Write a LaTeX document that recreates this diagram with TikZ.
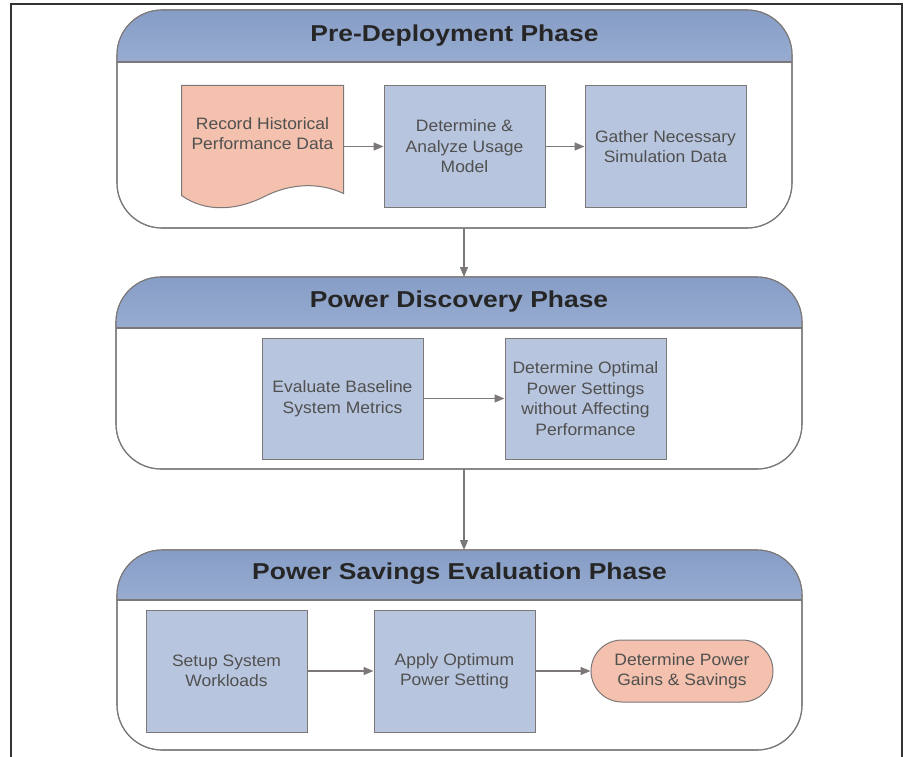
\documentclass[tikz,border=0pt]{standalone}
\usepackage{fontspec}
\setmainfont{Liberation Sans}
\newfontfamily\headfont[FakeStretch=1.15]{Liberation Sans}
\newfontfamily\bodyfont[FakeStretch=1.06]{Liberation Sans}
\usetikzlibrary{positioning, arrows.meta}
\definecolor{headtop}{RGB}{134,157,198}
\definecolor{headbot}{RGB}{152,172,208}
\definecolor{boxblue}{RGB}{184,197,222}
\definecolor{salmon}{RGB}{243,193,173}
\definecolor{edgegray}{RGB}{125,120,120}
\definecolor{txtgray}{RGB}{80,80,80}

\begin{document}
\begin{tikzpicture}[x=1pt, y=-1pt, node distance=40pt,
	phase/.style = { rectangle, draw=edgegray, line width=1.1pt, fill=white,
	rounded corners=45pt, outer sep=0pt },
	title/.style = { font=\headfont\bfseries\fontsize{23}{27}\selectfont, text=black!85 },
	block/.style = { rectangle, draw=edgegray, line width=1pt, fill=boxblue,
	minimum width=161pt, minimum height=121pt, inner sep=0pt, align=center,
	text=txtgray, font=\bodyfont\fontsize{16.5}{20.5}\selectfont },
	flow/.style = { draw=edgegray, line width=1.3pt, -{Triangle[length=10pt,width=8pt]} } ]

  \useasboundingbox (0,0) rectangle (910,757);
  \draw [line width=2pt, black!80] (11,757) -- (11,4) -- (902,4) -- (902,757);

  % pre-deployment
  \node [name=pre, phase, minimum width=675pt, minimum height=218pt] at (454.5,119) {};
  \begin{scope}
    \clip [rounded corners=45pt] (pre.north west) rectangle (pre.south east);
    \shade [top color=headtop, bottom color=headbot]
	(pre.north west) rectangle ([yshift=-52pt]pre.north east);
  \end{scope}
  \draw [edgegray, line width=1.1pt] ([yshift=-52pt]pre.north west) -- ([yshift=-52pt]pre.north east);
  \draw [phase, fill=none] (pre.north west) rectangle (pre.south east);
  \node [name=pretitle, title] at ([yshift=-26pt]pre.north) {Pre-Deployment Phase};

  \node [name=hist, block, draw=none, fill=none] at (262.5,146.5) {};
  \draw [fill=salmon, draw=edgegray, line width=1pt]
	(hist.north west) -- (hist.north east) -- ([yshift=14pt]hist.south east)
	.. controls ([xshift=-23pt,yshift=25pt]hist.south east) and ([xshift=-53pt,yshift=25pt]hist.south east)
	.. ([yshift=10pt]hist.south)
	.. controls ([xshift=-27pt,yshift=-3pt]hist.south) and ([xshift=-57pt,yshift=-5pt]hist.south)
	.. ([yshift=12pt]hist.south west) -- cycle;
  \node [name=histtext, block, draw=none, fill=none, minimum width=0pt, minimum height=0pt]
	at ([yshift=13pt]hist.center) {Record Historical\\Performance Data};
  \node [name=usage, block, right=40pt of hist] {Determine \&\\Analyze Usage\\Model};
  \node [name=simdata, block, right=39pt of usage] {Gather Necessary\\Simulation Data};

  % power discovery
  \node [name=disc, phase, minimum width=686pt, minimum height=192pt] at (459,373) {};
  \begin{scope}
    \clip [rounded corners=45pt] (disc.north west) rectangle (disc.south east);
    \shade [top color=headtop, bottom color=headbot]
	(disc.north west) rectangle ([yshift=-51pt]disc.north east);
  \end{scope}
  \draw [edgegray, line width=1.1pt] ([yshift=-51pt]disc.north west) -- ([yshift=-51pt]disc.north east);
  \draw [phase, fill=none] (disc.north west) rectangle (disc.south east);
  \node [name=disctitle, title] at ([yshift=-25pt]disc.north) {Power Discovery Phase};

  \node [name=baseline, block] at (342.5,398.5) {Evaluate Baseline\\System Metrics};
  \node [name=optimal, block, right=81pt of baseline]
	{Determine Optimal\\Power Settings\\without Affecting\\Performance};

  % power savings evaluation
  \node [name=save, phase, minimum width=685pt, minimum height=200pt] at (459.5,650) {};
  \begin{scope}
    \clip [rounded corners=45pt] (save.north west) rectangle (save.south east);
    \shade [top color=headtop, bottom color=headbot]
	(save.north west) rectangle ([yshift=-50pt]save.north east);
  \end{scope}
  \draw [edgegray, line width=1.1pt] ([yshift=-50pt]save.north west) -- ([yshift=-50pt]save.north east);
  \draw [phase, fill=none] (save.north west) rectangle (save.south east);
  \node [name=savetitle, title] at ([yshift=-24pt]save.north) {Power Savings Evaluation Phase};

  \node [name=workload, block, minimum height=122pt] at (226.5,671) {Setup System\\Workloads};
  \node [name=apply, block, minimum height=122pt, right=66pt of workload]
	{Apply Optimum\\Power Setting};
  \node [name=gains, block, fill=salmon, rounded corners=31pt,
	minimum width=182pt, minimum height=62pt, right=55pt of apply]
	{Determine Power\\Gains \& Savings};

  \draw [flow] (hist.east) -- (usage.west);
  \draw [flow] (usage) -- (simdata);
  \draw [flow] (baseline) -- (optimal);
  \draw [flow] (workload) -- (apply);
  \draw [flow] (apply) -- (gains);
  \draw [flow] ([xshift=9.5pt]pre.south) -- ([xshift=9.5pt]pre.south |- disc.north);
  \draw [flow] ([xshift=5pt]disc.south) -- ([xshift=5pt]disc.south |- save.north);
\end{tikzpicture}
\end{document}
